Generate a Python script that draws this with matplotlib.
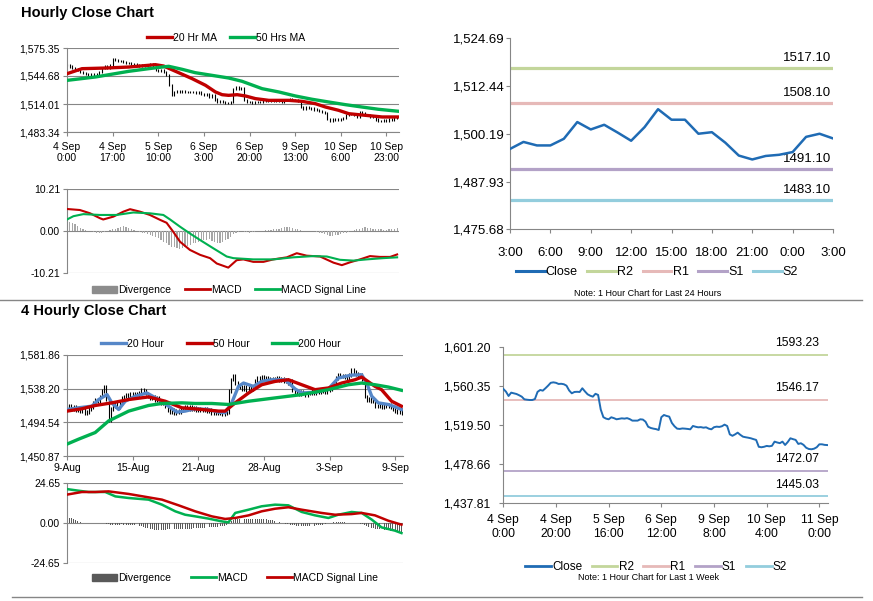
import numpy as np
import matplotlib
matplotlib.use('Agg')
import matplotlib.pyplot as plt
from matplotlib.lines import Line2D
from matplotlib.patches import Patch

plt.rcParams['font.family'] = ['Liberation Sans', 'DejaVu Sans']

# ---------------- DATA ----------------
# Hourly Close Chart (top-left), one value per hour starting 4 Sep 0:00
h1_close = [1557, 1555, 1553, 1552, 1551, 1549, 1548, 1547, 1546, 1547,
            1546, 1547, 1549, 1553, 1555, 1554, 1557, 1563, 1562, 1561,
            1561, 1560, 1559, 1559, 1558, 1558, 1557, 1556, 1557, 1556,
            1557, 1558, 1556, 1551, 1550, 1551, 1549, 1546, 1535, 1524,
            1527, 1528, 1527, 1528, 1527, 1527, 1527, 1527, 1526, 1527,
            1525, 1524, 1525, 1522, 1524, 1519, 1516, 1517, 1516, 1515,
            1515, 1516, 1530, 1532, 1530, 1531, 1518, 1516, 1516, 1515,
            1516, 1516, 1516, 1517, 1518, 1517, 1518, 1517, 1518, 1517,
            1516, 1518, 1518, 1519, 1518, 1518, 1517, 1511, 1509, 1511,
            1510, 1509, 1508, 1507, 1506, 1505, 1504, 1498, 1496, 1497,
            1497, 1497, 1498, 1499, 1502, 1503, 1503, 1502, 1500, 1505,
            1504, 1502, 1502, 1500, 1500, 1497, 1495, 1495, 1496, 1496,
            1497, 1497, 1499, 1500]
h1_ticks = ["4 Sep\n0:00", "4 Sep\n17:00", "5 Sep\n10:00", "6 Sep\n3:00",
            "6 Sep\n20:00", "9 Sep\n13:00", "10 Sep\n6:00", "10 Sep\n23:00"]
h1_yticks = [1483.34, 1514.01, 1544.68, 1575.35]
h1_ylabels = ["1,483.34", "1,514.01", "1,544.68", "1,575.35"]

ma20_x = [0, 5.6, 14.3, 23, 30.4, 32.9, 36, 41, 46.6, 51.6, 55.3, 57.8, 60.2,
          63.4, 66.5, 70.2, 75.2, 82.6, 87.6, 92.5, 96.3, 101.2, 105, 108.7,
          113.7, 117.4, 123.6]
ma20_y = [1547.2, 1552.7, 1553.4, 1554.5, 1556.4, 1557.1, 1555.6, 1549.1,
          1541.8, 1534.5, 1527.2, 1524.2, 1523.5, 1524.2, 1522.8, 1519.9,
          1518.0, 1518.0, 1516.9, 1514.4, 1510.7, 1507.1, 1503.4, 1502.3,
          1500.9, 1499.8, 1499.8]
ma50_x = [0, 10.6, 23, 30.4, 35.4, 37.9, 42.9, 47.8, 54, 60.2, 65.2, 72.7,
          78.9, 85.1, 91.3, 97.5, 103.7, 109.9, 116.1, 123.6]
ma50_y = [1539.9, 1543.6, 1549.8, 1552.7, 1554.5, 1555.3, 1552.0, 1548.3,
          1545.4, 1542.5, 1538.9, 1530.8, 1527.2, 1522.8, 1519.2, 1516.2,
          1513.3, 1510.7, 1508.2, 1506.0]

# Hourly MACD (top-left lower)
h1_div = [2.5, 2.2, 2.0, 1.6, 1.2, 0.8, 0.5, 0.3, 0.1, 0.0, -0.2,
          -0.4, -0.5, -0.5, -0.3, -0.1, 0.2, 0.4, 0.6,
          0.8, 1.0, 1.1, 1.0, 0.8, 0.6, 0.3, 0.0, -0.2, -0.4, -0.6, -0.8,
          -1.0, -1.2, -1.5, -1.8, -2.2, -2.6, -3.0, -3.4, -3.8, -4.0, -4.2, -4.3,
          -4.2, -4.0, -3.6, -3.3, -3.0, -2.8, -2.6, -2.5, -2.3, -2.2, -2.0, -2.5,
          -2.6, -2.8, -2.8, -2.6, -2.3, -2.0, -1.4, -0.8, -0.4, -0.2, -0.1,
          -0.2, -0.3, -0.4, -0.3, -0.2, -0.1, 0.0, 0.1, 0.2, 0.3,
          0.3, 0.4, 0.5, 0.6, 0.8, 0.9, 1.0, 1.0, 0.8, 0.6, 0.4,
          0.2, 0.1, 0.0, 0.0, 0.0, -0.1, -0.2, -0.4, -0.6, -0.8,
          -1.0, -1.1, -1.1, -1.0, -0.9, -0.8, -0.6, -0.4, -0.2, 0.0, 0.2,
          0.4, 0.6, 0.8, 0.9, 0.8, 0.7, 0.6, 0.5, 0.4, 0.4, 0.3,
          0.3, 0.4, 0.5, 0.6, 0.8]
h1_macd_x = [0, 4.8, 8.6, 12.3, 13.5, 17.3, 21, 23.5, 27.2, 30.9, 34.7, 37.1,
             39.6, 42.1, 45.8, 49.6, 53.3, 55.8, 60.1, 63.2, 65.7, 69.4, 73.2,
             76.9, 81.9, 85.6, 89.3, 94.3, 99.3, 102.4, 105.5, 109.2, 112.9,
             116.6, 120.4, 123.0]
h1_macd_y = [5.35, 5.1, 4.3, 3.1, 2.8, 3.5, 4.7, 5.3, 4.7, 3.9, 2.7, 2.0,
             -0.2, -2.6, -4.6, -5.8, -6.6, -7.9, -8.9, -7.1, -6.9, -7.5, -7.5,
             -6.9, -6.4, -5.4, -6.0, -6.2, -7.7, -8.3, -7.6, -6.9, -6.1, -6.3,
             -6.3, -5.7]
h1_sig_x = [0, 2.4, 6.1, 12.3, 18.5, 24.7, 30.9, 35.9, 38.4, 42.1, 45.8, 49.6,
            54.5, 59.5, 62, 69.4, 76.9, 84.3, 91.8, 96.8, 101.7, 106.7, 111.7,
            117.8, 123.0]
h1_sig_y = [2.8, 3.6, 4.1, 3.9, 3.9, 4.5, 4.3, 3.9, 2.8, 1.05, -0.6, -2.2,
            -4.2, -6.2, -6.6, -6.9, -6.9, -6.4, -6.1, -6.2, -7.0, -7.2, -6.9,
            -6.6, -6.4]

# Last 24 hours (top-right)
d24_close = [1496.3, 1498.1, 1497.2, 1497.2, 1498.9, 1503.2, 1501.3, 1502.5,
             1500.5, 1498.4, 1501.9, 1506.5, 1503.8, 1503.8, 1500.2, 1500.6,
             1497.9, 1494.6, 1493.6, 1494.5, 1494.8, 1495.5, 1499.4, 1500.2,
             1499.0]
d24_ticks = ["3:00", "6:00", "9:00", "12:00", "15:00", "18:00", "21:00", "0:00", "3:00"]
d24_yticks = [1475.68, 1487.93, 1500.19, 1512.44, 1524.69]
d24_ylabels = ["1,475.68", "1,487.93", "1,500.19", "1,512.44", "1,524.69"]
level_names = ["R2", "R1", "S1", "S2"]
d24_levels = [1517.10, 1508.10, 1491.10, 1483.10]

# 4 Hourly Close Chart (bottom-left), one value per 4h bar from 9 Aug
h4_close = [1514, 1516, 1512, 1515, 1511, 1510,
            1509, 1510, 1506, 1508, 1512,
            1514, 1520, 1524, 1522, 1528,
            1535, 1540, 1525, 1498, 1512,
            1516, 1518, 1514, 1520, 1526,
            1528, 1530, 1527, 1532, 1530,
            1531, 1529, 1533, 1536, 1535,
            1532, 1528, 1526, 1527, 1524,
            1526, 1522, 1519, 1520, 1515,
            1510, 1508, 1511, 1507, 1509,
            1508, 1510, 1512, 1514, 1512,
            1514, 1512, 1513, 1510, 1512,
            1511, 1510, 1512, 1509, 1511,
            1507, 1506, 1508, 1506, 1507,
            1505, 1507, 1508, 1535, 1550,
            1555, 1545, 1542, 1540, 1538,
            1540, 1537, 1539, 1538, 1540,
            1548, 1552, 1551, 1553, 1550,
            1552, 1551, 1549, 1551, 1550,
            1552, 1549, 1551, 1548, 1550,
            1546, 1548, 1536, 1534, 1533,
            1531, 1534, 1532, 1530, 1533,
            1532, 1535, 1533, 1536, 1534,
            1537, 1535, 1534, 1536, 1538,
            1541, 1545, 1552, 1556, 1554,
            1555, 1553, 1552, 1556, 1563,
            1560, 1557, 1555, 1556, 1550,
            1528, 1524, 1525, 1522, 1523,
            1516, 1515, 1517, 1514, 1516,
            1515, 1517, 1514, 1512, 1509,
            1508, 1510, 1507]
h4_ticks = ["9-Aug", "15-Aug", "21-Aug", "28-Aug", "3-Sep", "9-Sep"]
h4_yticks = [1450.87, 1494.54, 1538.20, 1581.86]
h4_ylabels = ["1,450.87", "1,494.54", "1,538.20", "1,581.86"]

m20_x = [0, 5.3, 11.4, 14.5, 18.3, 20.5, 23.6, 26.6, 31.2, 36.5, 41.9, 46.4,
         50.2, 54, 58.6, 64.7, 69.3, 72.3, 75.3, 78.4, 80.7, 85.2, 89, 93.6,
         99.7, 104.3, 107.3, 113.4, 119.5, 124, 127.1, 130.1, 134.7, 137,
         139.3, 142.3, 146.8, 149.9, 152.9]
m20_y = [1511.2, 1513.4, 1515.5, 1524.1, 1530.5, 1519.8, 1511.2, 1521.9,
         1528.4, 1532.6, 1524.1, 1515.5, 1507.8, 1509.1, 1512.1, 1511.2,
         1507.8, 1507.0, 1519.8, 1541.2, 1545.5, 1541.2, 1547.6, 1549.8,
         1549.8, 1537.8, 1532.6, 1533.5, 1537.8, 1551.9, 1554.0, 1555.8,
         1556.2, 1545.5, 1528.4, 1519.8, 1517.7, 1514.7, 1511.2]
m50_x = [0, 6.8, 12.9, 20.5, 28.2, 37.3, 44.9, 52.5, 61.6, 69.3, 72.3, 76.9,
         83, 89, 95.1, 101.2, 107.3, 113.4, 119.5, 125.6, 131.7, 134.7, 140.8,
         143.8, 148.4, 152.9]
m50_y = [1509.1, 1512.1, 1516.4, 1519.8, 1524.1, 1527.5, 1521.9, 1513.4,
         1511.2, 1509.1, 1509.1, 1519.8, 1532.6, 1543.3, 1547.6, 1549.8,
         1543.3, 1536.9, 1539.1, 1545.5, 1549.8, 1553.2, 1541.2, 1536.9,
         1521.9, 1515.5]
m200_x = [0, 5.3, 12.9, 19, 28.2, 37.3, 43.4, 52.5, 58.6, 66.2, 73.8, 83,
          95.1, 107.3, 119.5, 128.6, 134.7, 140.8, 146.9, 152.9]
m200_y = [1466.3, 1472.7, 1481.3, 1496.3, 1509.1, 1516.4, 1519.0, 1519.8,
          1519.0, 1519.0, 1517.7, 1521.9, 1526.2, 1530.5, 1536.9, 1543.3,
          1545.5, 1543.3, 1540.3, 1536.1]

# 4 Hourly MACD (bottom-left lower)
h4_div = [3.5, 3.2, 2.8, 2.2,
          1.6, 1.0, 0.5, 0.2, 0.0,
          0.0, 0.0, 0.0, -0.1, -0.1, 0.0, 0.1, 0.0,
          -0.3, -0.6, -0.9, -1.2, -1.3, -1.3, -1.2, -1.0,
          -0.9, -1.0, -1.1, -1.2, -1.1, -1.0, -1.1, -1.3,
          -1.6, -2.0, -2.4, -2.8, -3.2, -3.6, -4.0, -4.2,
          -4.4, -4.5, -4.4, -4.3, -4.2, -4.0, -3.9, -3.8,
          -3.8, -3.9, -4.0, -3.9, -3.8, -3.7, -3.6, -3.5,
          -3.4, -3.3, -3.2, -3.1, -3.0, -2.9, -2.8, -2.7,
          -2.6, -2.5, -2.4, -2.3, -2.2, -2.0, -1.8, -1.6,
          -1.0, 0.5, 1.5, 2.0,
          2.2, 2.3, 2.3, 2.2, 2.2, 2.3, 2.4, 2.4,
          2.3, 2.3, 2.2, 2.3, 2.4, 2.3, 2.2, 2.0,
          1.8, 1.6, 1.3, 1.0, 0.6, 0.3, 0.0, -0.4,
          -0.8, -1.1, -1.3, -1.5, -1.6, -1.7, -1.6, -1.6,
          -1.7, -1.8, -1.7, -1.6, -1.6, -1.5, -1.4, -1.2,
          -1.0, -0.6, -0.2, 0.1, 0.3, 0.4, 0.5, 0.4,
          0.5, 0.6, 0.5, 0.4, 0.3, 0.2, 0.1, 0.0,
          -0.2, -0.5, -0.9, -1.4, -2.0, -2.6, -3.0, -3.3,
          -3.5, -3.7, -3.8, -4.0, -4.2, -4.4, -4.6, -4.8,
          -5.0, -5.2, -5.4, -5.5, -5.4]
h4_macd_x = [0, 5.3, 9.9, 17.5, 22.1, 28.2, 37.3, 43.4, 49.5, 54, 58.6, 64.7,
             70.8, 73.8, 76.9, 83, 89, 95.1, 101.2, 107.3, 113.4, 119.5, 124,
             130.1, 134.7, 139.3, 143.8, 149.9, 152.9]
h4_macd_y = [20.9, 19.9, 19.1, 19.1, 16.4, 15.4, 14.4, 11.3, 7.2, 5.1, 4.1,
             2.7, 1.0, 0.4, 6.2, 8.2, 10.3, 11.3, 10.9, 6.8, 4.7, 3.1, 5.1,
             6.8, 6.2, 2.1, -2.7, -4.7, -6.2]
h4_sig_x = [0, 6.8, 12.9, 19, 28.2, 37.3, 43.4, 51, 58.6, 66.2, 72.3, 76.9,
            83, 89, 95.1, 101.2, 107.3, 116.4, 122.5, 130.1, 134.7, 140.8,
            146.9, 152.9]
h4_sig_y = [17.5, 19.1, 19.1, 19.5, 17.9, 15.8, 14.4, 10.9, 7.2, 4.1, 2.5,
            3.1, 4.7, 7.2, 8.8, 9.7, 8.2, 6.2, 5.1, 5.5, 6.2, 4.7, 1.4, -1.0]

# Last 1 week hourly (bottom-right)
wk_close = [1557.6, 1554.8, 1550.2, 1553.7, 1553.0, 1552.3, 1551.0, 1549.5,
            1546.7, 1546.3, 1546.0, 1546.0, 1547.0, 1554.5, 1556.5, 1555.8,
            1558.3, 1561.0, 1564.0, 1564.5, 1564.0, 1562.8, 1563.0, 1562.5,
            1561.0, 1556.0, 1553.0, 1554.4, 1554.6, 1554.4, 1558.3, 1555.0,
            1552.0, 1550.5, 1549.5, 1552.5, 1551.3, 1536.0, 1528.0, 1526.5,
            1525.8, 1527.9, 1527.0, 1525.8, 1526.3, 1526.8, 1526.5, 1527.0,
            1526.0, 1524.4, 1524.4, 1524.4, 1525.8, 1525.5, 1523.3, 1518.0,
            1516.7, 1516.0, 1515.5, 1514.6, 1528.0, 1530.3, 1529.3, 1528.6,
            1522.0, 1518.5, 1516.0, 1515.7, 1516.2, 1516.0, 1515.7, 1515.3,
            1518.8, 1518.0, 1517.4, 1517.6, 1517.0, 1517.4, 1516.0, 1515.3,
            1517.5, 1518.1, 1517.8, 1518.5, 1520.2, 1518.8, 1510.0, 1508.5,
            1510.0, 1511.8, 1509.5, 1507.6, 1507.0, 1506.5, 1505.9, 1505.0,
            1504.2, 1497.0, 1496.5, 1497.0, 1497.9, 1497.5, 1498.0, 1502.4,
            1501.5, 1500.8, 1502.4, 1498.9, 1502.0, 1505.9, 1505.0, 1504.2,
            1500.0, 1500.7, 1499.0, 1496.0, 1494.7, 1494.4, 1495.0, 1496.5,
            1499.6, 1499.6, 1499.0, 1498.8]
wk_ticks = ["4 Sep\n0:00", "4 Sep\n20:00", "5 Sep\n16:00", "6 Sep\n12:00",
            "9 Sep\n8:00", "10 Sep\n4:00", "11 Sep\n0:00"]
wk_yticks = [1437.81, 1478.66, 1519.50, 1560.35, 1601.20]
wk_ylabels = ["1,437.81", "1,478.66", "1,519.50", "1,560.35", "1,601.20"]
wk_levels = [1593.23, 1546.17, 1472.07, 1445.03]

# ---------------- STYLE ----------------
W, H = 873, 601
GRAY = '#868686'
RED = '#c00000'
GREEN = '#00b050'
BLUE = '#1f6bb4'
LBLUE = '#5687c8'
LEVEL_COLORS = ['#c3d69b', '#e6b9b8', '#b3a2c7', '#93cddd']

fig = plt.figure(figsize=(W / 100, H / 100), dpi=100)


def box(x0, y0, x1, y1):
    return fig.add_axes([x0 / W, 1 - y1 / H, (x1 - x0) / W, (y1 - y0) / H])


def style(ax, fs=7.5, grid=True):
    for s in ['top', 'right']:
        ax.spines[s].set_visible(False)
    for s in ['left', 'bottom']:
        ax.spines[s].set_color(GRAY)
        ax.spines[s].set_linewidth(0.8)
    ax.tick_params(colors=GRAY, labelcolor='black', labelsize=fs,
                   length=3, width=0.8, pad=2)
    if grid:
        ax.yaxis.grid(True, color=GRAY, lw=0.8)
    ax.set_axisbelow(True)


def leg(ax, handles, labels, cx, cy, fs=7.5, hl=2.4, cs=1.3):
    ax.legend(handles, labels, loc='center', ncol=len(handles),
              bbox_to_anchor=(cx / W, 1 - cy / H), bbox_transform=fig.transFigure,
              frameon=False, fontsize=fs, handlelength=hl, handletextpad=0.1,
              columnspacing=cs, borderpad=0, borderaxespad=0)


def bars(ax, close, pad):
    c = np.asarray(close, dtype=float)
    prev = np.r_[c[0], c[:-1]]
    x = np.arange(len(c))
    ax.vlines(x, np.minimum(prev, c) - pad, np.maximum(prev, c) + pad,
              color='black', lw=0.8, zorder=2)


# Titles
fig.text(21 / W, 1 - 12.5 / H, "Hourly Close Chart", fontsize=10.5,
         weight='bold', va='center', ha='left')
fig.text(21 / W, 1 - 311.5 / H, "4 Hourly Close Chart", fontsize=10.5,
         weight='bold', va='center', ha='left')

# ---- Top-left price ----
a1 = box(67, 48, 399, 132)
style(a1)
bars(a1, h1_close, 1.2)
a1.plot(ma20_x, ma20_y, color=RED, lw=2.4, zorder=3, label="20 Hr MA")
a1.plot(ma50_x, ma50_y, color=GREEN, lw=2.4, zorder=3, label="50 Hrs MA")
a1.set_xlim(0, 123.7)
a1.set_ylim(h1_yticks[0], h1_yticks[-1])
a1.set_yticks(h1_yticks)
a1.set_yticklabels(h1_ylabels)
a1.set_xticks(np.arange(len(h1_ticks)) * 17)
a1.set_xticklabels(h1_ticks, linespacing=1.15)
a1.tick_params(axis='x', pad=4)
h, l = a1.get_legend_handles_labels()
leg(a1, h, l, 226, 38)

# ---- Top-left MACD ----
a2 = box(67, 189, 399, 273)
style(a2)
a2.spines['bottom'].set_visible(False)
a2.bar(np.arange(len(h1_div)), h1_div, width=0.45, color='#a6a6a6', zorder=2)
a2.plot(h1_macd_x, h1_macd_y, color=RED, lw=1.5, zorder=3)
a2.plot(h1_sig_x, h1_sig_y, color=GREEN, lw=1.5, zorder=3)
a2.set_xlim(0, 123.7)
a2.set_ylim(-10.21, 10.21)
a2.set_yticks([-10.21, 0, 10.21])
a2.set_yticklabels(["-10.21", "0.00", "10.21"])
a2.set_xticks([])
leg(a2, [Patch(color='#8c8c8c'), Line2D([], [], color=RED, lw=2),
         Line2D([], [], color=GREEN, lw=2)],
    ["Divergence", "MACD", "MACD Signal Line"], 229, 290)

# ---- Top-right 24h ----
a3 = box(510, 38.3, 833, 229.3)
style(a3, fs=9.5, grid=False)
for name, val, col in zip(level_names, d24_levels, LEVEL_COLORS):
    a3.axhline(val, color=col, lw=2.3, zorder=2)
    a3.annotate(f"{val:.2f}", (22.1, val), xytext=(0, 3), textcoords='offset points',
                ha='center', va='bottom', fontsize=9.5)
a3.plot(np.arange(len(d24_close)), d24_close, color=BLUE, lw=1.8, zorder=3)
a3.set_xlim(0, 24)
a3.set_ylim(d24_yticks[0], d24_yticks[-1])
a3.set_yticks(d24_yticks)
a3.set_yticklabels(d24_ylabels)
a3.set_xticks(np.arange(len(d24_ticks)) * 3)
a3.set_xticklabels(d24_ticks)
a3.tick_params(axis='x', pad=10)
a3.tick_params(axis='y', pad=1)
leg(a3, [Line2D([], [], color=BLUE, lw=2.2)] +
    [Line2D([], [], color=c, lw=2.2) for c in LEVEL_COLORS],
    ["Close"] + level_names, 657, 272, fs=9, hl=2.3, cs=0.75)
fig.text(648 / W, 1 - 294 / H, "Note: 1 Hour Chart for Last 24 Hours",
         fontsize=6.5, ha='center', va='center')

# ---- Bottom-left price ----
a4 = box(67, 355, 403, 456)
style(a4)
bars(a4, h4_close, 2.5)
a4.plot(m20_x, m20_y, color=LBLUE, lw=2.4, zorder=3, label="20 Hour")
a4.plot(m50_x, m50_y, color=RED, lw=2.4, zorder=3, label="50 Hour")
a4.plot(m200_x, m200_y, color=GREEN, lw=2.4, zorder=3, label="200 Hour")
a4.set_xlim(0, 153.6)
a4.set_ylim(h4_yticks[0], h4_yticks[-1])
a4.set_yticks(h4_yticks)
a4.set_yticklabels(h4_ylabels)
a4.set_xticks(np.arange(len(h4_ticks)) * 30)
a4.set_xticklabels(h4_ticks)
h, l = a4.get_legend_handles_labels()
leg(a4, h, l, 221, 344, cs=2.2)

# ---- Bottom-left MACD ----
a5 = box(67, 483, 403, 563)
style(a5)
a5.spines['bottom'].set_visible(False)
a5.bar(np.arange(len(h4_div)), h4_div, width=0.45, color='#595959', zorder=2)
a5.plot(h4_macd_x, h4_macd_y, color=GREEN, lw=1.8, zorder=3)
a5.plot(h4_sig_x, h4_sig_y, color=RED, lw=1.8, zorder=3)
a5.set_xlim(0, 153.6)
a5.set_ylim(-24.65, 24.65)
a5.set_yticks([-24.65, 0, 24.65])
a5.set_yticklabels(["-24.65", "0.00", "24.65"])
a5.set_xticks([])
leg(a5, [Patch(color='#595959'), Line2D([], [], color=GREEN, lw=2),
         Line2D([], [], color=RED, lw=2)],
    ["Divergence", "MACD", "MACD Signal Line"], 235, 578, cs=1.9)

# ---- Bottom-right week ----
a6 = box(503.3, 347.3, 828.3, 503.3)
style(a6, fs=8.7, grid=False)
for name, val, col in zip(level_names, wk_levels, LEVEL_COLORS):
    a6.axhline(val, color=col, lw=1.3, zorder=2)
    a6.annotate(f"{val:.2f}", (111.4, val), xytext=(0, 4), textcoords='offset points',
                ha='center', va='bottom', fontsize=8.7, annotation_clip=False)
a6.plot(np.arange(len(wk_close)), wk_close, color=BLUE, lw=1.4, zorder=3)
a6.set_xlim(0, 123.4)
a6.set_ylim(wk_yticks[0], wk_yticks[-1])
a6.set_yticks(wk_yticks)
a6.set_yticklabels(wk_ylabels)
a6.set_xticks(np.arange(len(wk_ticks)) * 20)
a6.set_xticklabels(wk_ticks, linespacing=1.15)
a6.tick_params(axis='x', pad=5)
a6.tick_params(axis='y', pad=6)
leg(a6, [Line2D([], [], color=BLUE, lw=2)] +
    [Line2D([], [], color=c, lw=2) for c in LEVEL_COLORS],
    ["Close"] + level_names, 656, 567, fs=8.5, hl=2.2, cs=0.8)
fig.text(648 / W, 1 - 578 / H, "Note: 1 Hour Chart for Last 1 Week",
         fontsize=6.5, ha='center', va='center')

# separators
fig.add_artist(Line2D([0, 862 / W], [1 - 299.5 / H] * 2, color=GRAY, lw=1,
                      transform=fig.transFigure))
fig.add_artist(Line2D([12 / W, 862 / W], [1 - 597 / H] * 2, color=GRAY, lw=1,
                      transform=fig.transFigure))

fig.savefig("out.png", dpi=100)
